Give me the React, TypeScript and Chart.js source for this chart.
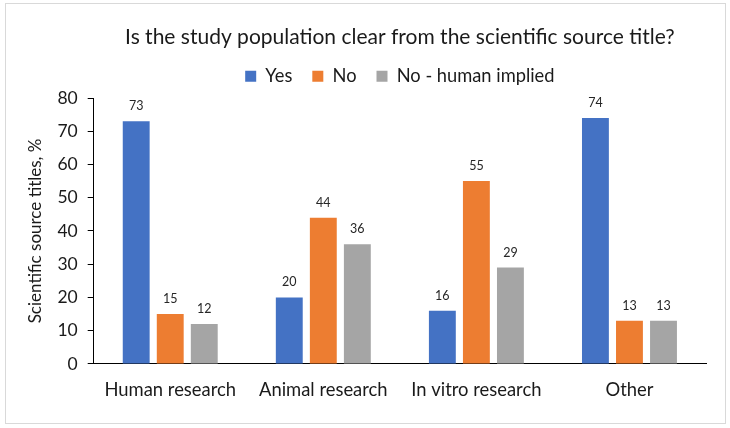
import React, { useEffect, useRef } from "react";
import { Chart, registerables } from "chart.js";

Chart.register(...registerables);

const categories = ["Human research", "Animal research", "In vitro research", "Other"];
const seriesNames = ["Yes", "No", "No - human implied"];
const yesValues = [73, 20, 16, 74];
const noValues = [15, 44, 55, 13];
const impliedValues = [12, 36, 29, 13];
const colors = ["#4472C4", "#ED7D31", "#A5A5A5"];
const titleText = "Is the study population clear from the scientific source title?";
const yAxisTitle = "Scientific source titles, %";

const FONT = "Lato, 'Noto Sans', sans-serif";
const TEXT = "#1a1a1a";

const dataLabelPlugin = {
  id: "dataLabels",
  afterDatasetsDraw(chart: any) {
    const ctx = chart.ctx;
    ctx.save();
    ctx.font = `12.5px ${FONT}`;
    ctx.fillStyle = "#262626";
    ctx.textAlign = "center";
    ctx.textBaseline = "middle";
    chart.data.datasets.forEach((ds: any, i: number) => {
      const meta = chart.getDatasetMeta(i);
      meta.data.forEach((bar: any, j: number) => {
        ctx.fillText(String(ds.data[j]), bar.x, bar.y - 15);
      });
    });
    ctx.restore();
  },
};

export default function App() {
  const ref = useRef<HTMLCanvasElement>(null);
  useEffect(() => {
    document.body.style.margin = "0";
    const seriesValues = [yesValues, noValues, impliedValues];
    const chart = new Chart(ref.current!, {
      type: "bar",
      data: {
        labels: categories,
        datasets: seriesNames.map((name, i) => ({
          label: name,
          data: seriesValues[i],
          backgroundColor: colors[i],
          borderWidth: 0,
          barPercentage: 0.79,
          categoryPercentage: 0.667,
        })),
      },
      options: {
        animation: false,
        responsive: false,
        devicePixelRatio: 1,
        layout: { padding: { left: 25, right: 24, top: 25, bottom: 12 } },
        plugins: {
          title: {
            display: true,
            text: titleText,
            fullSize: false,
            color: TEXT,
            font: { family: FONT, size: 21, weight: "normal" },
            padding: { top: 0, bottom: -3 },
          },
          legend: {
            display: true,
            fullSize: false,
            position: "top",
            labels: {
              boxWidth: 11,
              boxHeight: 11,
              color: TEXT,
              padding: 20,
              font: { family: FONT, size: 18.3 },
            },
          },
          tooltip: { enabled: false },
        },
        scales: {
          x: {
            grid: { display: false, drawTicks: false },
            border: { display: true, color: "#000", width: 1 },
            ticks: { color: TEXT, font: { family: FONT, size: 18.4 }, padding: 15 },
          },
          xTopSpacer: {
            type: "category",
            position: "top",
            display: true,
            grid: { display: false, drawTicks: false },
            border: { display: false },
            ticks: { display: false },
            afterFit: (scale: any) => {
              scale.height = 2.5;
            },
          },
          y: {
            min: 0,
            max: 80,
            ticks: { stepSize: 10, color: TEXT, font: { family: FONT, size: 17.5 }, padding: 10 },
            grid: { drawOnChartArea: false, drawTicks: true, tickLength: 6, color: "#000" },
            border: { display: true, color: "#000", width: 1 },
            title: {
              display: true,
              text: yAxisTitle,
              color: TEXT,
              font: { family: FONT, size: 17 },
              padding: { top: 0, bottom: 2 },
            },
          },
        },
      },
      plugins: [dataLabelPlugin],
    });
    return () => chart.destroy();
  }, []);
  return (
    <div style={{ position: "relative", width: 730, height: 428, background: "#fff", overflow: "hidden" }}>
      <canvas ref={ref} width={730} height={428} style={{ display: "block" }} />
      <div
        style={{
          position: "absolute",
          left: 5,
          top: 3,
          width: 721,
          height: 421,
          boxSizing: "border-box",
          border: "1px solid #d9d9d9",
          pointerEvents: "none",
        }}
      />
    </div>
  );
}
